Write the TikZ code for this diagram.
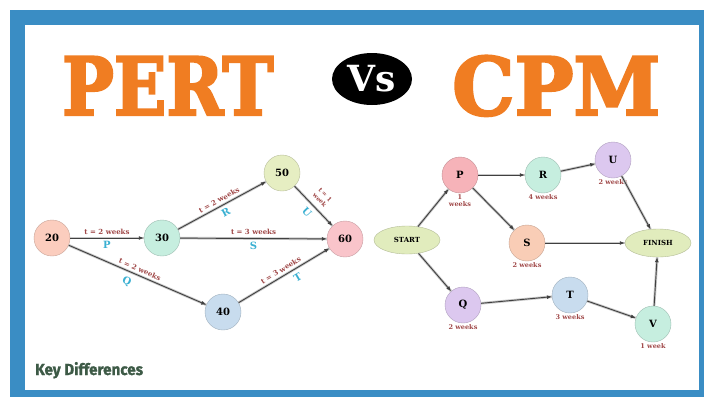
\documentclass[tikz,border=0pt]{standalone}
\usepackage{fontspec}
\usepackage{graphicx}
\usepackage{xcolor}
\usepackage{tikz}
\usetikzlibrary{arrows.meta,shapes.geometric}
\setmainfont{DejaVu Serif}
\newfontfamily\titlefont[BoldFeatures={FakeBold=3}]{DejaVu Serif}
\newfontfamily\keyfont[BoldFeatures={FakeBold=1}]{Fira Sans}

\definecolor{frameblue}{HTML}{3A8DC4}
\definecolor{titleorange}{HTML}{F07D22}
\definecolor{wkred}{HTML}{A04848}
\definecolor{lettercyan}{HTML}{3AB0D2}
\definecolor{keygreen}{HTML}{3D5A46}
% node fills
\definecolor{salmonfill}{HTML}{FBCDBE}
\definecolor{tealfill}{HTML}{C6EEDF}
\definecolor{limefill}{HTML}{E6EEC2}
\definecolor{pinkfill}{HTML}{F9C4CA}
\definecolor{bluefill}{HTML}{C8DCEE}
\definecolor{redfill}{HTML}{F6B3B9}
\definecolor{lilacfill}{HTML}{DCC8EF}
\definecolor{peachfill}{HTML}{F9CDB6}
\definecolor{endfill}{HTML}{E1ECBD}

\tikzset{
  evt/.style={circle, minimum size=36pt, inner sep=0pt, draw=#1!80!black, fill=#1,
    font=\fontsize{10}{10}\selectfont\bfseries},
  endpt/.style={ellipse, minimum width=66pt, minimum height=28pt, inner sep=0pt,
    draw=#1!80!black, fill=#1, font=\fontsize{7}{7}\selectfont\bfseries},
  arr/.style={-{Latex[length=5pt,width=4pt]}, line width=0.9pt, draw=black!75,
    preaction={draw=black!22, line width=2.6pt, -}},
  wt/.style={font=\fontsize{7}{7}\selectfont\bfseries, text=wkred, inner sep=1pt},
  lt/.style={font=\fontsize{10}{10}\selectfont\bfseries, text=lettercyan, inner sep=1pt},
  wk/.style={font=\fontsize{6.5}{7.5}\selectfont\bfseries, text=wkred, inner sep=1pt, align=center}
}

\begin{document}
\begin{tikzpicture}[x=1pt, y=-1pt]
  \useasboundingbox (0,0) rectangle (704,397);
  % frame
  \fill[frameblue] (10,10) rectangle (704,397);
  \fill[white] (25,25) rectangle (699,390);

  % title
  \node[anchor=base west, inner sep=0pt, text=titleorange, font=\titlefont\fontsize{80}{80}\selectfont\bfseries]
    (pert) at (62,115) {\scalebox{0.86}[1]{PERT}};
  \node[ellipse, fill=black, minimum width=80pt, minimum height=52pt, inner sep=0pt,
    text=white, font=\fontsize{36}{36}\selectfont\bfseries] (vs) at (372,79) {Vs};
  \node[anchor=base west, inner sep=0pt, text=titleorange, font=\titlefont\fontsize{80}{80}\selectfont\bfseries]
    (cpm) at (452,115) {\scalebox{0.98}[1]{CPM}};

  % PERT network
  \node[evt=salmonfill] (n20) at (52,238) {20};
  \node[evt=tealfill] (n30) at (162,238) {30};
  \node[evt=limefill] (n50) at (282,173) {50};
  \node[evt=pinkfill] (n60) at (345,239) {60};
  \node[evt=bluefill] (n40) at (223,312) {40};

  \draw[arr] (n20) -- node[wt, above=2pt] {t = 2 weeks} node[lt, below=2pt] {P} (n30);
  \draw[arr] (n30) -- node[wt, above=2pt, sloped] {t = 2 weeks} node[lt, below=3pt, sloped] {R} (n50);
  \draw[arr] (n30) -- node[wt, above=2pt] {t = 3 weeks} node[lt, below=2pt] {S} (n60);
  \draw[arr] (n50) -- node[wt, above=5pt, sloped, align=center, font=\fontsize{6}{7.5}\selectfont\bfseries] {t = 1\\week}
    node[lt, below=4pt, sloped] {U} (n60);
  \draw[arr] (n20) -- node[wt, above=2pt, sloped] {t = 2 weeks} node[lt, below=4pt, sloped, pos=0.45] {Q} (n40);
  \draw[arr] (n40) -- node[wt, above=2pt, sloped] {t = 3 weeks} node[lt, below=4pt, sloped, pos=0.6] {T} (n60);

  % CPM network
  \node[endpt=endfill] (start) at (407,240) {START};
  \node[endpt=endfill] (finish) at (658,243) {FINISH};
  \node[evt=redfill, label={[wk]below:1\\weeks}] (p) at (460,175) {P};
  \node[evt=tealfill, label={[wk]below:4 weeks}] (r) at (543,175) {R};
  \node[evt=lilacfill, label={[wk]below:2 weeks}] (u) at (613,160) {U};
  \node[evt=peachfill, label={[wk]below:2 weeks}] (s) at (527,243) {S};
  \node[evt=lilacfill, label={[wk]below:2 weeks}] (q) at (463,305) {Q};
  \node[evt=bluefill, label={[wk]below:3 weeks}] (t) at (570,295) {T};
  \node[evt=tealfill, label={[wk]below:1 week}] (v) at (653,324) {V};

  \draw[arr] (start) -- (p);
  \draw[arr] (p) -- (r);
  \draw[arr] (r) -- (u);
  \draw[arr] (p) -- (s);
  \draw[arr] (s) -- (finish);
  \draw[arr] (u) -- (finish);
  \draw[arr] (start) -- (q);
  \draw[arr] (q) -- (t);
  \draw[arr] (t) -- (v);
  \draw[arr] (v) -- (finish);

  % footer
  \node[anchor=base west, inner sep=0pt, text=keygreen, font=\keyfont\fontsize{16}{16}\selectfont\bfseries]
    (key) at (35,375) {\scalebox{0.95}[1]{Key Differences}};
\end{tikzpicture}
\end{document}
